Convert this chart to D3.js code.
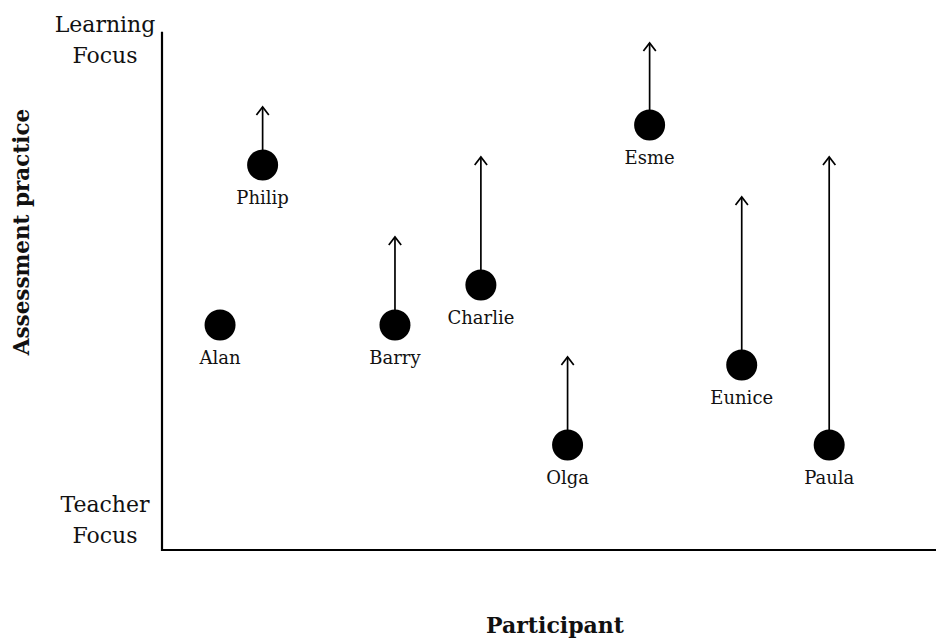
<!DOCTYPE html>
<html>
<head>
<meta charset="utf-8">
<script src="https://cdn.jsdelivr.net/npm/d3@7"></script>
<style>
  body { margin: 0; background: #fff; }
  text { font-family: 'DejaVu Serif', serif; fill: #111; }
</style>
</head>
<body>
<script>
'use strict';

// participants, horizontal position, start level and where the arrow points (null = no arrow)
var participants = ['Alan', 'Philip', 'Barry', 'Charlie', 'Olga', 'Esme', 'Eunice', 'Paula'];
var xPos = [7.5, 13.0, 30.1, 41.2, 52.4, 63.0, 74.9, 86.2];
var startLevel = [5, 9, 5, 6, 2, 10, 4, 2];
var endLevel = [null, 10.45, 7.2, 9.2, 4.2, 12.05, 8.2, 9.2];

var yTickLabels = [['Learning', 'Focus'], ['Teacher', 'Focus']];

var width = 936;
var height = 639;

var svg = d3.select('body').append('svg')
  .attr('width', width)
  .attr('height', height);

//open chevron head, points along the line
svg.append('defs').append('marker')
  .attr('id', 'head')
  .attr('viewBox', '0 0 16 16')
  .attr('refX', 10)
  .attr('refY', 8)
  .attr('markerWidth', 16)
  .attr('markerHeight', 16)
  .attr('markerUnits', 'userSpaceOnUse')
  .attr('orient', 'auto')
  .append('path')
  .attr('d', 'M2,1.8 L10,8 L2,14.2')
  .attr('fill', 'none')
  .attr('stroke', '#000')
  .attr('stroke-width', 1.7);

var x = d3.scaleLinear().domain([0, 100]).range([162, 936]);
var y = d3.scaleLinear().domain([0, 10]).range([525, 125]);

//axes, drawn as plain lines like the original
svg.append('path')
  .attr('d', 'M' + x(0) + ',' + y(12.33) + 'V' + y(-0.625) + 'H' + x(100))
  .attr('fill', 'none')
  .attr('stroke', '#000')
  .attr('stroke-width', 2.2);

var pts = participants.map(function(name, i) {
  return { name: name, x: xPos[i], s: startLevel[i], e: endLevel[i] };
});

//arrows
svg.selectAll('line.arrow')
  .data(pts.filter(function(d) { return d.e !== null; }))
  .enter().append('line')
  .attr('class', 'arrow')
  .attr('x1', function(d) { return x(d.x); })
  .attr('x2', function(d) { return x(d.x); })
  .attr('y1', function(d) { return y(d.s); })
  .attr('y2', function(d) { return y(d.e); })
  .attr('stroke', '#000')
  .attr('stroke-width', 1.7)
  .attr('marker-end', 'url(#head)');

svg.selectAll('circle.pt')
  .data(pts)
  .enter().append('circle')
  .attr('class', 'pt')
  .attr('cx', function(d) { return x(d.x); })
  .attr('cy', function(d) { return y(d.s); })
  .attr('r', 15.5)
  .attr('fill', '#000');

svg.selectAll('text.name')
  .data(pts)
  .enter().append('text')
  .attr('class', 'name')
  .attr('x', function(d) { return x(d.x); })
  .attr('y', function(d) { return y(d.s) + 39; })
  .attr('text-anchor', 'middle')
  .style('font-size', '18px')
  .text(function(d) { return d.name; });

//end labels on the y axis
var ends = [y(12.3), y(0.3)];
yTickLabels.forEach(function(lines, i) {
  var t = svg.append('text')
    .attr('text-anchor', 'middle')
    .attr('x', 105)
    .attr('y', ends[i] - 1)
    .style('font-size', '22px');
  lines.forEach(function(l, j) {
    t.append('tspan')
      .attr('x', 105)
      .attr('dy', j === 0 ? 0 : 31)
      .text(l);
  });
});

svg.append('text')
  .attr('transform', 'translate(29,' + 232 + ')rotate(-90)')
  .attr('text-anchor', 'middle')
  .style('font-size', '21.5px')
  .style('font-weight', 'bold')
  .text('Assessment practice');

svg.append('text')
  .attr('x', 555)
  .attr('y', 633)
  .attr('text-anchor', 'middle')
  .style('font-size', '22px')
  .style('font-weight', 'bold')
  .text('Participant');
</script>
</body>
</html>
